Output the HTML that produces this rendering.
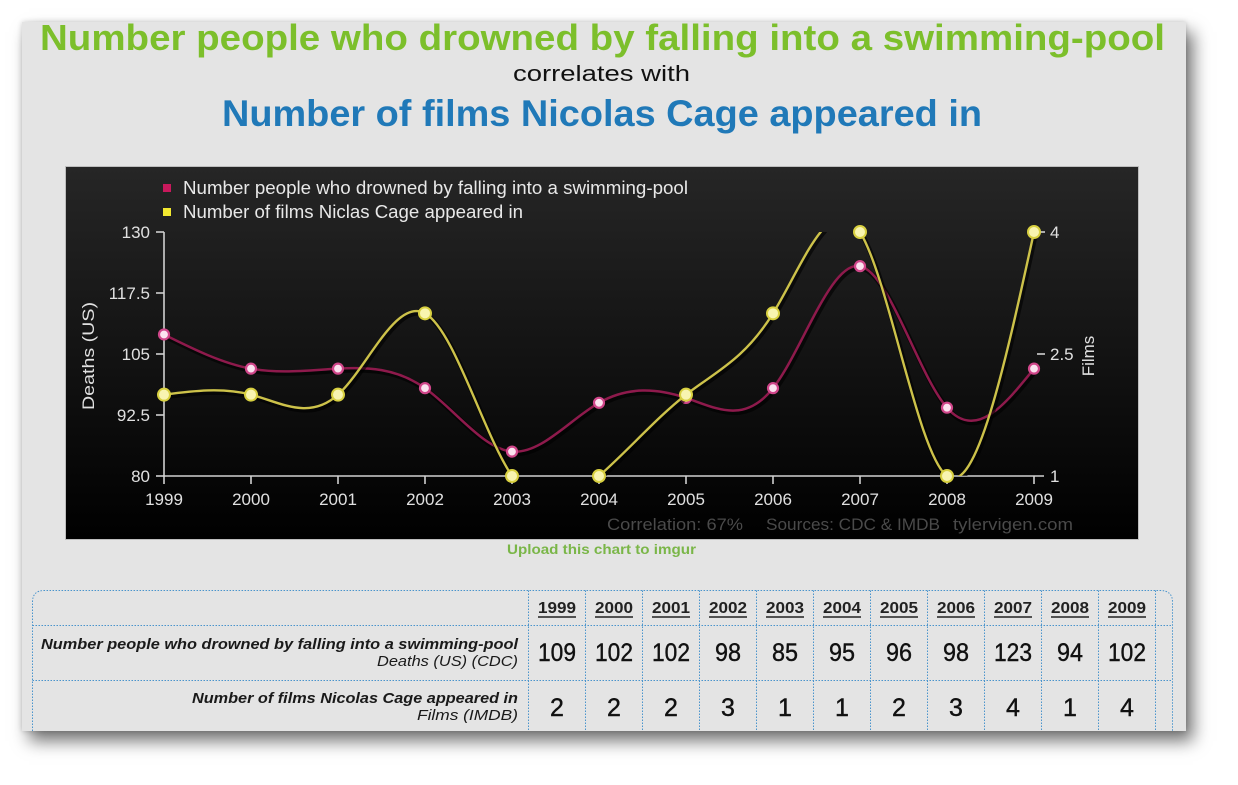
<!DOCTYPE html>
<html><head><meta charset="utf-8">
<style>
html,body{margin:0;padding:0;background:#fff;width:1238px;height:785px;overflow:hidden;}
#panel{position:absolute;left:22px;top:22px;width:1164px;height:709px;background:#e4e4e4;box-shadow:0 0 5px rgba(0,0,0,0.18),7px 10px 16px rgba(0,0,0,0.55);}
svg{position:absolute;left:0;top:0;}
</style></head><body>
<div id="panel"></div>
<svg width="1238" height="785" viewBox="0 0 1238 785" xmlns="http://www.w3.org/2000/svg" font-family="'Liberation Sans', Arial, sans-serif">
<defs>
<linearGradient id="bg" x1="0" y1="0" x2="0" y2="1"><stop offset="0" stop-color="#262626"/><stop offset="1" stop-color="#000"/></linearGradient>
<clipPath id="plot"><rect x="150" y="232" width="900" height="244"/></clipPath>
</defs>

<!-- Titles -->
<text x="40" y="50" font-size="36" font-weight="bold" fill="#7cbf2b" textLength="1125" lengthAdjust="spacingAndGlyphs">Number people who drowned by falling into a swimming-pool</text>
<text x="513" y="81" font-size="22" fill="#111" textLength="177" lengthAdjust="spacingAndGlyphs">correlates with</text>
<text x="222" y="126" font-size="37" font-weight="bold" fill="#2079b8" textLength="760" lengthAdjust="spacingAndGlyphs">Number of films Nicolas Cage appeared in</text>

<!-- Chart background -->
<rect x="65.5" y="166.5" width="1073" height="373" fill="url(#bg)" stroke="#bdbdbd" stroke-width="1"/>

<!-- Legend -->
<rect x="163" y="184" width="8" height="8" fill="#c8195c"/>
<text x="183" y="194" font-size="18" fill="#e8e8e8" textLength="505" lengthAdjust="spacingAndGlyphs">Number people who drowned by falling into a swimming-pool</text>
<rect x="163" y="208" width="8" height="8" fill="#f2e830"/>
<text x="183" y="218" font-size="18" fill="#e8e8e8" textLength="340" lengthAdjust="spacingAndGlyphs">Number of films Niclas Cage appeared in</text>

<!-- Axes -->
<g stroke="#d0d0d0" stroke-width="1.6" fill="none">
<line x1="164" y1="232" x2="164" y2="477"/>
<line x1="163" y1="476" x2="1044" y2="476"/>
<line x1="156" y1="232" x2="164" y2="232"/>
<line x1="156" y1="293" x2="164" y2="293"/>
<line x1="156" y1="354" x2="164" y2="354"/>
<line x1="156" y1="415" x2="164" y2="415"/>
<line x1="156" y1="476" x2="164" y2="476"/>
<line x1="164" y1="476" x2="164" y2="484"/>
<line x1="251" y1="476" x2="251" y2="484"/>
<line x1="338" y1="476" x2="338" y2="484"/>
<line x1="425" y1="476" x2="425" y2="484"/>
<line x1="512" y1="476" x2="512" y2="484"/>
<line x1="599" y1="476" x2="599" y2="484"/>
<line x1="686" y1="476" x2="686" y2="484"/>
<line x1="773" y1="476" x2="773" y2="484"/>
<line x1="860" y1="476" x2="860" y2="484"/>
<line x1="947" y1="476" x2="947" y2="484"/>
<line x1="1034" y1="476" x2="1034" y2="484"/>
<line x1="1037" y1="232" x2="1045" y2="232"/>
<line x1="1037" y1="354" x2="1045" y2="354"/>
</g>

<g font-size="17" fill="#e0e0e0" text-anchor="end">
<text x="150" y="238">130</text>
<text x="150" y="299">117.5</text>
<text x="150" y="360">105</text>
<text x="150" y="421">92.5</text>
<text x="150" y="482">80</text>
</g>
<g font-size="17" fill="#e0e0e0" text-anchor="middle">
<text x="164" y="505">1999</text>
<text x="251" y="505">2000</text>
<text x="338" y="505">2001</text>
<text x="425" y="505">2002</text>
<text x="512" y="505">2003</text>
<text x="599" y="505">2004</text>
<text x="686" y="505">2005</text>
<text x="773" y="505">2006</text>
<text x="860" y="505">2007</text>
<text x="947" y="505">2008</text>
<text x="1034" y="505">2009</text>
</g>
<g font-size="17" fill="#e0e0e0">
<text x="1050" y="238">4</text>
<text x="1050" y="360">2.5</text>
<text x="1050" y="482">1</text>
</g>
<text transform="translate(94,356) rotate(-90)" font-size="17" fill="#e0e0e0" text-anchor="middle" textLength="108" lengthAdjust="spacingAndGlyphs">Deaths (US)</text>
<text transform="translate(1094,356) rotate(-90)" font-size="17" fill="#e0e0e0" text-anchor="middle">Films</text>

<!-- Series -->
<g clip-path="url(#plot)" fill="none" stroke-linejoin="round" stroke-linecap="round">
<path transform="translate(1.5,2)" stroke="#000" stroke-opacity="0.6" stroke-width="5" d="M164,334.48 C193,348.90 222,363.31 251,368.64 C280,373.97 309,370.21 338,368.64 C367,367.07 396,367.70 425,388.16 C454,408.62 483,448.93 512,451.6 C541,454.27 570,419.30 599,402.8 C628,386.30 657,388.25 686,397.92 C715,407.59 744,424.96 773,388.16 C802,351.36 831,260.38 860,266.16 C889,271.94 918,374.47 947,407.68 C976,440.89 1005,404.76 1034,368.64"/>
<path stroke="#8e1a4c" stroke-width="2.5" d="M164,334.48 C193,348.90 222,363.31 251,368.64 C280,373.97 309,370.21 338,368.64 C367,367.07 396,367.70 425,388.16 C454,408.62 483,448.93 512,451.6 C541,454.27 570,419.30 599,402.8 C628,386.30 657,388.25 686,397.92 C715,407.59 744,424.96 773,388.16 C802,351.36 831,260.38 860,266.16 C889,271.94 918,374.47 947,407.68 C976,440.89 1005,404.76 1034,368.64"/>
</g>
<g fill="#fbe2ef" stroke="#d0468a" stroke-width="2.2">
<circle cx="164" cy="334.48" r="5"/>
<circle cx="251" cy="368.64" r="5"/>
<circle cx="338" cy="368.64" r="5"/>
<circle cx="425" cy="388.16" r="5"/>
<circle cx="512" cy="451.6" r="5"/>
<circle cx="599" cy="402.8" r="5"/>
<circle cx="686" cy="397.92" r="5"/>
<circle cx="773" cy="388.16" r="5"/>
<circle cx="860" cy="266.16" r="5"/>
<circle cx="947" cy="407.68" r="5"/>
<circle cx="1034" cy="368.64" r="5"/>
</g>
<g clip-path="url(#plot)" fill="none" stroke-linejoin="round" stroke-linecap="round">
<path transform="translate(1.5,2)" stroke="#000" stroke-opacity="0.6" stroke-width="5" d="M164,394.67 C193,390.92 222,387.17 251,394.67 C280,402.17 309,420.91 338,394.67 C367,368.42 396,297.19 425,313.33 C454,329.48 483,433.01 512,476 C541,518.99 570,501.42 599,476 C628,450.58 657,417.29 686,394.67 C715,372.05 744,360.10 773,313.33 C802,266.57 831,185.00 860,232 C889,279.0 918,454.57 947,476 C976,497.43 1005,364.71 1034,232"/>
<path stroke="#cdc24a" stroke-width="2.4" d="M164,394.67 C193,390.92 222,387.17 251,394.67 C280,402.17 309,420.91 338,394.67 C367,368.42 396,297.19 425,313.33 C454,329.48 483,433.01 512,476 C541,518.99 570,501.42 599,476 C628,450.58 657,417.29 686,394.67 C715,372.05 744,360.10 773,313.33 C802,266.57 831,185.00 860,232 C889,279.0 918,454.57 947,476 C976,497.43 1005,364.71 1034,232"/>
</g>
<g fill="#f8f4b0" stroke="#d8d040" stroke-width="2">
<circle cx="164" cy="394.67" r="6"/>
<circle cx="251" cy="394.67" r="6"/>
<circle cx="338" cy="394.67" r="6"/>
<circle cx="425" cy="313.33" r="6"/>
<circle cx="512" cy="476" r="6"/>
<circle cx="599" cy="476" r="6"/>
<circle cx="686" cy="394.67" r="6"/>
<circle cx="773" cy="313.33" r="6"/>
<circle cx="860" cy="232" r="6"/>
<circle cx="947" cy="476" r="6"/>
<circle cx="1034" cy="232" r="6"/>
</g>

<!-- Footer credits -->
<g font-size="17" fill="#4a4a4a">
<text x="607" y="530" textLength="136" lengthAdjust="spacingAndGlyphs">Correlation: 67%</text>
<text x="766" y="530" textLength="174" lengthAdjust="spacingAndGlyphs">Sources: CDC &amp; IMDB</text>
<text x="953" y="530" textLength="120" lengthAdjust="spacingAndGlyphs">tylervigen.com</text>
</g>
<text x="507" y="554" font-size="14" font-weight="bold" fill="#7ab648" textLength="189" lengthAdjust="spacingAndGlyphs">Upload this chart to imgur</text>

<!-- Table grid -->
<g fill="none" stroke="#4a94cc" stroke-width="1" stroke-dasharray="1.5,1.5">
<path d="M32.5,731 L32.5,602 Q32.5,590.5 44.5,590.5 L1160,590.5 Q1172.5,590.5 1172.5,602 L1172.5,731"/>
<line x1="32.5" y1="625.5" x2="1172.5" y2="625.5"/>
<line x1="32.5" y1="680.5" x2="1172.5" y2="680.5"/>
<line x1="528.5" y1="590.5" x2="528.5" y2="731"/>
<line x1="585.5" y1="590.5" x2="585.5" y2="731"/>
<line x1="642.5" y1="590.5" x2="642.5" y2="731"/>
<line x1="699.5" y1="590.5" x2="699.5" y2="731"/>
<line x1="756.5" y1="590.5" x2="756.5" y2="731"/>
<line x1="813.5" y1="590.5" x2="813.5" y2="731"/>
<line x1="870.5" y1="590.5" x2="870.5" y2="731"/>
<line x1="927.5" y1="590.5" x2="927.5" y2="731"/>
<line x1="984.5" y1="590.5" x2="984.5" y2="731"/>
<line x1="1041.5" y1="590.5" x2="1041.5" y2="731"/>
<line x1="1098.5" y1="590.5" x2="1098.5" y2="731"/>
<line x1="1155.5" y1="590.5" x2="1155.5" y2="731"/>
</g>

<!-- Table headers -->
<g font-size="15.5" font-weight="bold" fill="#222" text-anchor="middle">
<text x="557" y="613" textLength="38" lengthAdjust="spacingAndGlyphs">1999</text>
<text x="614" y="613" textLength="38" lengthAdjust="spacingAndGlyphs">2000</text>
<text x="671" y="613" textLength="38" lengthAdjust="spacingAndGlyphs">2001</text>
<text x="728" y="613" textLength="38" lengthAdjust="spacingAndGlyphs">2002</text>
<text x="785" y="613" textLength="38" lengthAdjust="spacingAndGlyphs">2003</text>
<text x="842" y="613" textLength="38" lengthAdjust="spacingAndGlyphs">2004</text>
<text x="899" y="613" textLength="38" lengthAdjust="spacingAndGlyphs">2005</text>
<text x="956" y="613" textLength="38" lengthAdjust="spacingAndGlyphs">2006</text>
<text x="1013" y="613" textLength="38" lengthAdjust="spacingAndGlyphs">2007</text>
<text x="1070" y="613" textLength="38" lengthAdjust="spacingAndGlyphs">2008</text>
<text x="1127" y="613" textLength="38" lengthAdjust="spacingAndGlyphs">2009</text>
</g>
<g stroke="#222" stroke-width="1.5">
<line x1="538" y1="617" x2="576" y2="617"/>
<line x1="595" y1="617" x2="633" y2="617"/>
<line x1="652" y1="617" x2="690" y2="617"/>
<line x1="709" y1="617" x2="747" y2="617"/>
<line x1="766" y1="617" x2="804" y2="617"/>
<line x1="823" y1="617" x2="861" y2="617"/>
<line x1="880" y1="617" x2="918" y2="617"/>
<line x1="937" y1="617" x2="975" y2="617"/>
<line x1="994" y1="617" x2="1032" y2="617"/>
<line x1="1051" y1="617" x2="1089" y2="617"/>
<line x1="1108" y1="617" x2="1146" y2="617"/>
</g>

<!-- Row labels -->
<g fill="#1a1a1a" text-anchor="end" font-style="italic">
<text x="518" y="649" font-size="15" font-weight="bold" textLength="477" lengthAdjust="spacingAndGlyphs">Number people who drowned by falling into a swimming-pool</text>
<text x="518" y="666" font-size="15" textLength="141" lengthAdjust="spacingAndGlyphs">Deaths (US) (CDC)</text>
<text x="518" y="703" font-size="15" font-weight="bold" textLength="326" lengthAdjust="spacingAndGlyphs">Number of films Nicolas Cage appeared in</text>
<text x="518" y="720" font-size="15" textLength="101" lengthAdjust="spacingAndGlyphs">Films (IMDB)</text>
</g>

<!-- Values -->
<g font-size="25" fill="#111" stroke="#111" stroke-width="0.4" text-anchor="middle">
<text x="557" y="661" textLength="38" lengthAdjust="spacingAndGlyphs">109</text>
<text x="614" y="661" textLength="38" lengthAdjust="spacingAndGlyphs">102</text>
<text x="671" y="661" textLength="38" lengthAdjust="spacingAndGlyphs">102</text>
<text x="728" y="661" textLength="26" lengthAdjust="spacingAndGlyphs">98</text>
<text x="785" y="661" textLength="26" lengthAdjust="spacingAndGlyphs">85</text>
<text x="842" y="661" textLength="26" lengthAdjust="spacingAndGlyphs">95</text>
<text x="899" y="661" textLength="26" lengthAdjust="spacingAndGlyphs">96</text>
<text x="956" y="661" textLength="26" lengthAdjust="spacingAndGlyphs">98</text>
<text x="1013" y="661" textLength="38" lengthAdjust="spacingAndGlyphs">123</text>
<text x="1070" y="661" textLength="26" lengthAdjust="spacingAndGlyphs">94</text>
<text x="1127" y="661" textLength="38" lengthAdjust="spacingAndGlyphs">102</text>
<text x="557" y="716">2</text>
<text x="614" y="716">2</text>
<text x="671" y="716">2</text>
<text x="728" y="716">3</text>
<text x="785" y="716">1</text>
<text x="842" y="716">1</text>
<text x="899" y="716">2</text>
<text x="956" y="716">3</text>
<text x="1013" y="716">4</text>
<text x="1070" y="716">1</text>
<text x="1127" y="716">4</text>
</g>
</svg>
</body></html>
